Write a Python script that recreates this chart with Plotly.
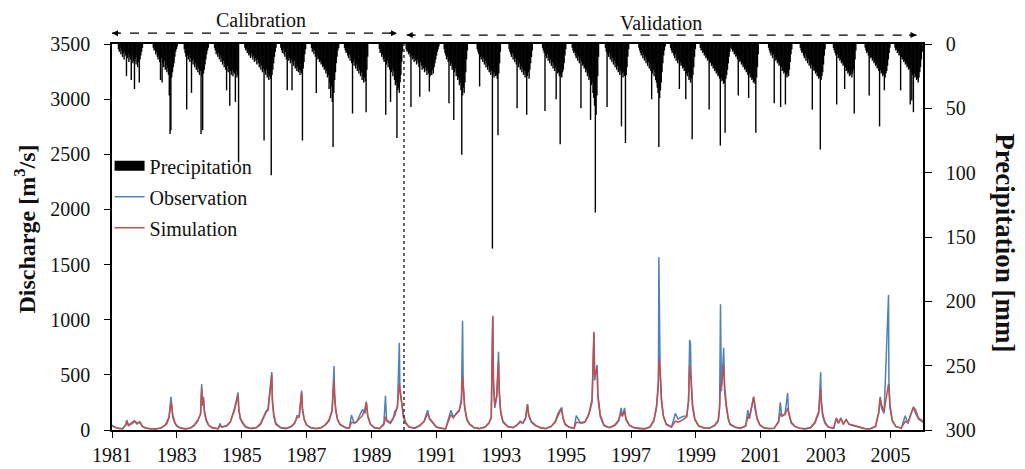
import plotly.graph_objects as go
import pandas as pd

# ---------------- precipitation (mm), one list per year, sampled every 9 days from a start day ----------------
precip_years = list(range(1981, 2006))
precip_start_doy = [73, 100, 84, 60, 35, 75, 55, 62, 88, 25, 88, 95, 88,
                    100, 68, 78, 88, 80, 50, 40, 88, 80, 88, 80, 50]
precip_step_days = 9
p1981 = [4,6,3,8,5,10,7,12,6,9,25,11,8,14,10,12,28,9,15,13,35,12,16,10,18,14,30,12,9,6,3]
p1982 = [3,5,4,8,6,10,12,9,14,28,11,30,15,18,13,20,17,22,19,24,40,70,67,26,22,18,15,10,6,4,2]
p1983 = [4,7,10,51,9,12,8,14,11,38,13,16,12,18,15,20,17,22,19,24,21,70,25,67,23,20,16,12,8,5,3]
p1984 = [3,5,8,6,10,7,12,9,14,11,16,13,18,15,20,36,17,22,19,48,21,24,20,25,22,23,45,21,26,24,92]
p1985 = [3,5,4,7,6,9,8,11,7,10,12,9,14,11,13,16,12,15,18,14,20,17,22,19,75,21,24,20,26,23,28,25,27,102,24,20,15,10,6,3]
p1986 = [3,5,7,4,8,10,6,12,36,9,13,11,15,12,36,14,17,13,19,16,21,18,22,20,24,21,23,75,19,14,8,4]
p1987 = [3,6,4,8,5,10,38,9,12,11,14,13,16,15,18,17,20,19,23,21,26,24,35,30,42,33,45,80,38,28,22,15,10,5,3]
p1988 = [3,5,7,6,9,11,8,13,10,15,54,14,17,12,19,16,21,18,23,20,25,22,28,24,30,26,29,53,20,10]
p1989 = [4,7,6,10,8,12,14,11,55,16,13,18,15,20,45,22,19,25,21,28,32,30,73,36,34,38,30,24,14,6]
p1990 = [4,6,5,8,7,10,49,9,12,11,14,10,13,16,12,15,18,41,14,17,20,16,19,22,18,21,24,20,23,37,25,22,24,20,23,18,15,12,9,6,4,2]
p1991 = [4,7,9,12,10,14,46,13,17,15,20,18,59,22,19,25,23,28,26,32,30,36,86,40,34,38,30,22,12,5]
p1992 = [4,6,8,33,10,12,9,14,11,16,13,18,15,20,17,22,19,24,21,159,23,26,22,25,24,27,71,23,15,6]
p1993 = [4,6,8,10,7,12,9,14,11,16,50,13,18,15,20,17,22,19,24,21,26,23,55,25,22,27,20,15,10,5]
p1994 = [3,5,7,52,9,11,8,13,10,15,12,17,14,19,16,21,18,43,20,23,22,25,78,24,26,22,20,15,9,4]
p1995 = [3,5,7,6,9,11,8,13,10,15,12,50,14,17,16,19,18,22,20,25,23,28,26,59,32,30,38,42,48,131,55,40,25,10]
p1996 = [3,6,49,8,10,7,12,9,14,11,16,13,18,15,20,17,22,19,24,21,64,23,26,22,25,77,24,18,10,4]
p1997 = [3,5,7,9,6,11,8,13,10,15,12,17,14,19,16,21,43,23,20,25,22,28,30,34,38,80,42,36,30,22,15,9,5,2]
p1998 = [3,5,7,6,9,11,8,13,10,15,12,35,14,17,16,19,18,21,20,43,23,25,22,28,26,30,27,74,24,18,10,4]
p1999 = [3,5,4,7,6,9,8,11,10,13,12,51,15,14,17,16,19,18,21,20,23,22,25,24,27,79,26,29,28,31,30,69,27,24,20,15,10,6,3]
p2000 = [4,6,5,8,7,10,9,12,40,11,14,13,16,15,18,17,20,19,22,21,24,42,23,26,25,28,27,30,29,31,69,26,18,8]
p2001 = [3,5,7,9,6,11,8,46,10,13,12,15,14,17,16,49,18,21,20,23,22,47,24,26,23,25,20,14,8,4]
p2002 = [3,5,7,6,9,11,8,13,10,15,12,17,14,19,16,51,18,21,20,23,22,25,24,27,26,82,28,25,22,16,9,4]
p2003 = [3,5,7,9,47,8,11,10,13,12,15,14,17,16,35,18,21,20,23,22,25,24,21,26,23,20,54,12,5]
p2004 = [3,5,7,6,9,40,8,11,10,13,12,15,14,17,16,19,18,21,64,20,23,22,25,24,36,26,23,21,17,12,7,3]
p2005 = [3,5,4,7,6,9,8,36,10,12,11,14,13,16,15,18,17,20,19,47,22,44,24,53,23,26,25,28,27,30,26,22,18,12,6]
precip_mm = [p1981, p1982, p1983, p1984, p1985, p1986, p1987, p1988, p1989, p1990,
             p1991, p1992, p1993, p1994, p1995, p1996, p1997, p1998, p1999, p2000,
             p2001, p2002, p2003, p2004, p2005]

# ---------------- discharge (m3/s): dates (MM-DD) per year, observed and simulated ----------------
q_years = list(range(1981, 2006))
q_dates = [
    ["01-01","01-20","03-01","05-01","06-10","06-15","07-05","08-20","09-10","10-10","11-10","12-10"],
    ["01-15","03-01","05-01","07-01","08-20","09-10","10-05","10-27","11-03","11-15","12-10","12-31"],
    ["02-01","04-01","06-01","07-15","08-25","09-25","10-08","10-15","10-28","11-08","11-30","12-25"],
    ["02-01","04-10","05-01","05-20","07-15","08-25","10-12","11-21","11-28","12-15"],
    ["01-10","02-15","04-15","06-15","08-01","10-01","10-25","12-05","12-12","12-28"],
    ["01-20","03-15","05-15","07-15","08-20","09-15","10-10","11-06","11-15","12-05","12-31"],
    ["02-15","04-15","06-15","08-01","09-10","10-15","11-06","11-12","11-25","12-15"],
    ["01-15","03-15","04-25","05-20","06-20","07-15","09-20","10-20","11-03","11-20","12-20"],
    ["02-01","04-01","05-20","06-07","06-20","08-01","09-01","09-20","10-20","11-10","11-17","12-05","12-25"],
    ["01-20","03-01","05-01","07-01","08-15","09-25","10-15","11-20","12-31"],
    ["02-15","04-15","06-14","07-10","08-20","09-15","10-10","10-23","10-30","11-15","12-10"],
    ["01-10","03-01","05-01","07-01","08-15","09-10","09-27","10-05","10-20","11-10","12-01","12-08","12-25"],
    ["01-20","03-15","05-15","07-01","08-01","09-01","10-01","10-23","11-05","12-05"],
    ["01-20","03-15","05-15","07-15","09-01","10-01","11-06","11-15","11-25","12-20"],
    ["02-01","04-01","04-25","06-15","08-01","09-15","10-20","11-10","11-18","12-16","12-24"],
    ["01-20","03-01","05-01","07-01","08-15","09-12","09-25","10-20","11-05","12-15"],
    ["02-01","04-01","06-01","08-01","09-15","10-15","11-05","11-10","11-15","11-25","12-10","12-31"],
    ["02-01","04-01","05-15","06-15","08-01","09-20","10-10","10-23","11-01","11-10","11-25","12-20"],
    ["02-01","04-01","06-01","08-01","09-10","09-25","10-05","10-15","11-10","11-20","12-10","12-31"],
    ["01-20","03-15","05-15","07-15","08-08","08-25","10-12","10-25","11-20","12-20"],
    ["02-01","04-01","06-01","07-20","08-08","08-25","10-01","10-30","11-10","12-10"],
    ["01-20","03-15","05-15","07-15","09-01","10-15","11-06","11-12","11-30","12-25"],
    ["02-01","04-01","05-01","05-25","06-20","07-20","08-20","09-20","11-01","12-15"],
    ["01-20","03-15","05-15","07-15","08-20","09-06","09-20","10-20","12-09","12-13","12-25"],
    ["01-20","03-01","05-01","06-15","07-15","08-20","09-15","10-10","11-10","12-31"],
]
q_obs = [
    [45,30,15,10,50,90,40,60,80,55,70,30],
    [15,10,8,15,40,75,120,300,200,120,60,35],
    [20,10,15,40,80,150,417,220,300,150,80,40],
    [20,10,60,25,35,70,200,340,180,100],
    [60,25,12,20,50,160,200,525,250,120],
    [50,20,12,30,60,130,130,357,180,90,45],
    [20,12,20,45,80,180,580,300,170,90],
    [45,20,15,136,60,70,185,150,257,120,50],
    [20,12,60,311,80,60,100,170,200,790,350,250,120],
    [60,25,15,40,80,180,100,60,25],
    [15,10,180,120,150,180,250,990,400,200,90],
    [50,20,12,25,60,120,1035,400,200,300,710,350,150],
    [70,30,20,45,80,60,100,235,130,70],
    [40,20,12,30,80,150,200,200,110,50],
    [25,15,130,60,70,140,250,890,450,590,300],
    [120,40,20,40,80,200,120,200,90,40],
    [20,12,10,25,80,200,400,1567,900,500,250,120],
    [50,25,150,100,120,130,250,816,780,400,200,90],
    [35,18,15,40,80,200,1140,350,745,350,200,100],
    [50,25,15,35,180,100,300,200,100,45],
    [20,12,15,80,250,120,150,335,150,60],
    [30,15,10,20,60,150,525,250,120,60],
    [25,15,100,60,110,50,100,50,40,30],
    [20,12,10,30,150,300,200,150,1225,455,200],
    [80,30,15,130,60,150,200,150,100,70],
]
q_sim = [
    [40,30,18,12,55,85,45,70,85,60,75,35],
    [18,12,10,18,45,55,110,250,230,140,70,40],
    [22,12,18,45,90,140,380,230,280,170,90,45],
    [22,12,40,28,40,75,180,320,200,110],
    [70,30,15,22,60,170,180,500,280,140],
    [60,22,15,35,65,110,120,340,200,100,50],
    [22,14,22,50,90,170,450,330,190,100],
    [50,22,17,70,65,75,130,200,250,130,55],
    [22,14,50,120,90,70,110,130,220,420,380,280,140],
    [70,28,18,45,75,150,110,70,30],
    [18,12,140,110,160,170,280,485,420,220,100],
    [55,22,14,28,65,110,1030,450,230,300,620,380,170],
    [80,32,22,50,70,65,110,230,140,80],
    [45,22,14,32,70,130,190,160,120,55],
    [28,16,70,65,75,150,280,880,500,560,330],
    [140,45,22,45,90,160,130,170,100,45],
    [22,14,12,28,90,220,450,640,600,550,280,130],
    [55,28,80,70,90,120,270,590,500,450,230,100],
    [40,20,17,45,90,220,420,400,590,400,230,110],
    [55,28,17,40,120,110,300,220,110,50],
    [22,14,17,70,150,130,140,200,160,70],
    [35,17,12,22,70,170,370,280,140,70],
    [28,17,110,65,100,55,90,55,45,35],
    [22,14,12,35,160,290,230,170,420,350,230],
    [90,33,17,80,65,140,210,180,110,80],
]

x_tick_years = list(range(1981, 2006, 2))
calib_period = ["1981-01-01", "1989-10-15"]
valid_period = ["1990-02-01", "2005-10-20"]
split_date = "1990-01-01"

# ---------------- build series ----------------
for d, o, s in zip(q_dates, q_obs, q_sim):
    assert len(d) == len(o) == len(s)

qx, qo, qs = [], [], []
for yr, d, o, s in zip(q_years, q_dates, q_obs, q_sim):
    qx += [f"{yr}-{md}" for md in d]
    qo += o
    qs += s

stem_x, stem_y = [], []
for yr, start, vals in zip(precip_years, precip_start_doy, precip_mm):
    base = pd.Timestamp(f"{yr}-01-01")
    for i, v in enumerate(vals):
        dt = (base + pd.Timedelta(days=start + precip_step_days * i)).strftime("%Y-%m-%d")
        stem_x += [dt, dt, None]
        stem_y += [0, v, None]

SERIF = "Liberation Serif, Times New Roman, serif"
BLUE = "#4F81BD"
RED = "#C0504D"

fig = go.Figure()
fig.add_trace(go.Scatter(x=stem_x, y=stem_y, mode="lines", yaxis="y2",
                         line=dict(color="black", width=1.4), showlegend=False,
                         hoverinfo="skip"))
fig.add_trace(go.Scatter(x=[None], y=[None], mode="lines", yaxis="y2", legendgroup="p",
                         line=dict(color="black", width=10), name="Precipitation"))
fig.add_trace(go.Scatter(x=qx, y=qo, mode="lines", name="Observation", legendgroup="o",
                         line=dict(color=BLUE, width=1.5)))
fig.add_trace(go.Scatter(x=qx, y=qs, mode="lines", name="Simulation", legendgroup="s",
                         line=dict(color=RED, width=1.5)))

tickfont = dict(family=SERIF, size=20, color="#111")
xr = ["1981-01-01", "2006-01-01"]
tv = [f"{y}-01-01" for y in x_tick_years]

fig.update_layout(
    width=1025, height=469,
    margin=dict(l=112, r=102, t=44, b=39, autoexpand=False),
    paper_bgcolor="white", plot_bgcolor="white",
    font=dict(family=SERIF, color="#111"),
    xaxis=dict(type="date", range=xr, tickvals=tv, ticktext=[str(y) for y in x_tick_years],
               showgrid=False, zeroline=False, showline=True, linecolor="black", linewidth=1.5,
               mirror=True, ticks="outside", ticklen=6, tickcolor="black", tickfont=tickfont,
               automargin=False),
    xaxis2=dict(type="date", range=xr, tickvals=tv, overlaying="x", anchor="y",
                showticklabels=False, showgrid=False, zeroline=False, showline=False,
                ticks="inside", ticklen=4, tickcolor="black", automargin=False),
    yaxis=dict(range=[0, 3500], dtick=500, showgrid=False, zeroline=False, showline=True,
               linecolor="black", linewidth=1.5, ticks="outside", ticklen=6, tickcolor="black",
               tickfont=tickfont, ticklabelstandoff=10, automargin=False),
    yaxis3=dict(range=[0, 3500], dtick=500, overlaying="y", anchor="x", side="left",
                showticklabels=False, showgrid=False, zeroline=False, showline=False,
                ticks="inside", ticklen=5, tickcolor="black", automargin=False),
    yaxis2=dict(range=[300, 0], dtick=50, overlaying="y", side="right", anchor="x",
                showgrid=False, zeroline=False, showline=True, linecolor="black", linewidth=1.5,
                ticks="outside", ticklen=7, tickcolor="black", tickfont=tickfont,
                ticklabelstandoff=10, automargin=False),
    legend=dict(x=-0.003, y=0.735, xanchor="left", yanchor="top", bgcolor="rgba(0,0,0,0)",
                font=dict(family=SERIF, size=20, color="#111"), tracegroupgap=2),
    showlegend=True,
)

# axis titles
fig.add_annotation(text="<b>Discharge [m<sup>3</sup>/s]</b>", xref="paper", yref="paper",
                   x=-0.107, y=0.52, xanchor="center", yanchor="middle", textangle=-90,
                   showarrow=False, font=dict(family=SERIF, size=24, color="#111"))
fig.add_annotation(text="<b>Precipitation [mm]</b>", xref="paper", yref="paper",
                   x=1.101, y=0.484, xanchor="center", yanchor="middle", textangle=90,
                   showarrow=False, font=dict(family=SERIF, size=27, color="#111"))

# period labels and arrows
fig.add_annotation(text="Calibration", x="1985-08-01", xref="x", y=1.062, yref="paper",
                   xanchor="center", yanchor="middle",
                   showarrow=False, font=dict(family=SERIF, size=20, color="#111"))
fig.add_annotation(text="Validation", x="1997-12-01", xref="x", y=1.054, yref="paper",
                   xanchor="center", yanchor="middle",
                   showarrow=False, font=dict(family=SERIF, size=20, color="#111"))
for (a, b), yy in [(calib_period, 1.028), (valid_period, 1.023)]:
    fig.add_shape(type="line", xref="x", yref="paper", x0=a, x1=b, y0=yy, y1=yy,
                  line=dict(color="black", width=1.2, dash="dash"))
    fig.add_annotation(x=a, y=yy, xref="x", yref="paper", ax=9, ay=0, axref="pixel", ayref="pixel",
                       text="", showarrow=True, arrowhead=2, arrowsize=1, arrowwidth=1.2,
                       arrowcolor="black")
    fig.add_annotation(x=b, y=yy, xref="x", yref="paper", ax=-9, ay=0, axref="pixel", ayref="pixel",
                       text="", showarrow=True, arrowhead=2, arrowsize=1, arrowwidth=1.2,
                       arrowcolor="black")

fig.add_shape(type="line", xref="x", yref="paper", x0=split_date, x1=split_date, y0=0, y1=1,
              line=dict(color="#333", width=1.5, dash="dot"))

fig.write_html("out.html")
